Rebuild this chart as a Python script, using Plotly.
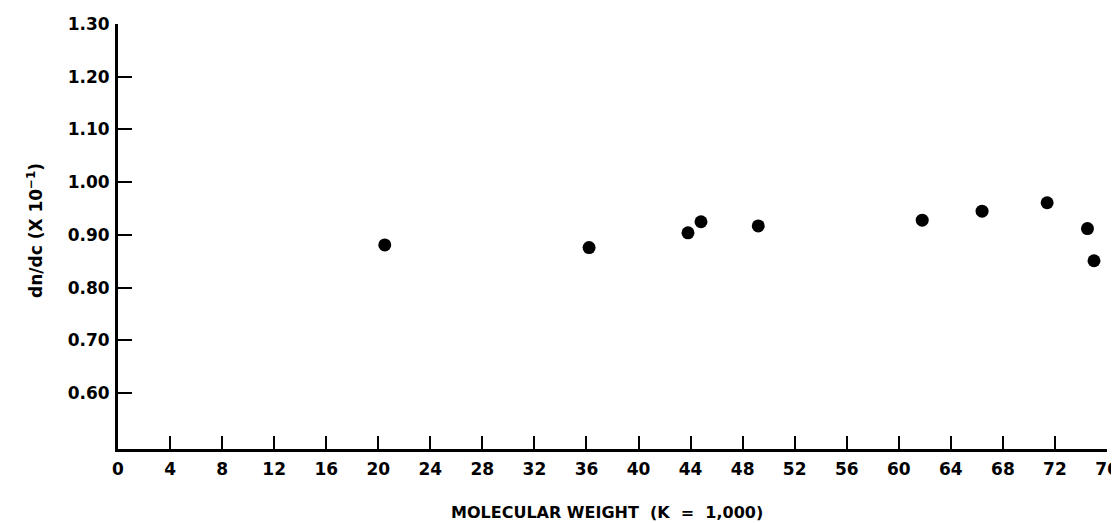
import plotly.graph_objects as go

mol_weight_k = [20.5, 36.2, 43.8, 44.8, 49.2, 61.8, 66.4, 71.4, 74.5, 75.0]
dn_dc = [0.881, 0.876, 0.904, 0.925, 0.917, 0.928, 0.945, 0.961, 0.912, 0.851]

x_ticks = list(range(0, 80, 4))
y_ticks = [0.60, 0.70, 0.80, 0.90, 1.00, 1.10, 1.20, 1.30]
y_tick_labels = ["0.60", "0.70", "0.80", "0.90", "1.00", "1.10", "1.20", "1.30"]

FAM = "DejaVu Sans"
tick_font = dict(family=FAM, size=17, color="black", weight="bold")
xtitle_font = dict(family=FAM, size=16, color="black", weight="bold")
ytitle_font = dict(family=FAM, size=17, color="black", weight="bold")

W, H = 1111, 515
L, R, T, B = 110, 12, 16, 74
PW, PH = W - L - R, H - T - B

fig = go.Figure()
fig.add_trace(go.Scatter(
    x=mol_weight_k, y=dn_dc, mode="markers",
    marker=dict(size=13, color="black"),
    showlegend=False,
))

fig.update_layout(
    width=W, height=H,
    paper_bgcolor="white", plot_bgcolor="white",
    margin=dict(l=L, r=R, t=T, b=B),
    font=tick_font,
    annotations=[
        dict(text="MOLECULAR WEIGHT  (K  =  1,000)", xref="paper", yref="paper",
             x=(599 - L) / PW, y=-(504 - (H - B)) / PH,
             xanchor="center", yanchor="middle", showarrow=False, font=xtitle_font),
        dict(text="dn/dc (X 10<sup>−1</sup>)", xref="paper", yref="paper",
             x=-(L - 27) / PW, y=((H - B) - 223) / PH,
             xanchor="center", yanchor="middle", textangle=-90, showarrow=False,
             font=ytitle_font),
    ],
)
fig.update_xaxes(
    range=[0, 76], tickvals=x_ticks, ticktext=[str(v) for v in x_ticks],
    ticks="inside", ticklen=13, tickwidth=2, tickcolor="black",
    showline=True, linewidth=3, linecolor="black",
    showgrid=False, zeroline=False, automargin=False,
    tickfont=tick_font, ticklabelstandoff=3,
)
fig.update_yaxes(
    range=[0.494, 1.30], tickvals=y_ticks, ticktext=y_tick_labels,
    ticks="inside", ticklen=14, tickwidth=2, tickcolor="black",
    showline=True, linewidth=3, linecolor="black",
    showgrid=False, zeroline=False, automargin=False,
    tickfont=tick_font, ticklabelstandoff=2,
)

fig.write_html("out.html")
